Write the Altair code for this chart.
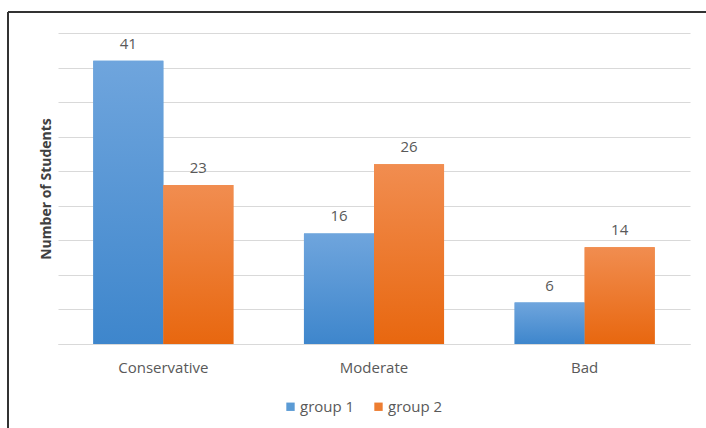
import altair as alt
import pandas as pd

categories = ["Conservative", "Moderate", "Bad"]
groups = ["group 1", "group 2"]
group1 = [41, 16, 6]
group2 = [23, 26, 14]

rows = []
for c, a, b in zip(categories, group1, group2):
    rows.append({"category": c, "group": "group 1", "value": a})
    rows.append({"category": c, "group": "group 2", "value": b})
df = pd.DataFrame(rows)

solid = ["#5b9bd5", "#ed7d31"]
grad_blue = alt.Gradient(
    gradient="linear", x1=0, x2=0, y1=0, y2=1,
    stops=[alt.GradientStop(color="#6fa5dd", offset=0),
           alt.GradientStop(color="#3e86cc", offset=1)],
)
grad_orange = alt.Gradient(
    gradient="linear", x1=0, x2=0, y1=0, y2=1,
    stops=[alt.GradientStop(color="#f18d50", offset=0),
           alt.GradientStop(color="#e8670f", offset=1)],
)

x_enc = alt.X(
    "category:N", sort=categories, title=None,
    scale=alt.Scale(paddingInner=0.335, paddingOuter=0.1675),
    axis=alt.Axis(labelAngle=0, ticks=False, grid=False, domainColor="#d9d9d9",
                  labelColor="#595959", labelFontSize=15, labelPadding=16,
                  labelFont="Open Sans"),
)
xo_enc = alt.XOffset("group:N", sort=groups,
                     scale=alt.Scale(paddingInner=0, paddingOuter=0))
y_enc = alt.Y(
    "value:Q", scale=alt.Scale(domain=[0, 45], nice=False),
    axis=alt.Axis(values=list(range(0, 50, 5)), labels=False, ticks=False,
                  domain=False, gridColor="#d9d9d9", title="Number of Students",
                  titleFontSize=14, titleFontWeight="bold", titleColor="#404040",
                  titleFont="Open Sans", titlePadding=5),
)

base = alt.Chart(df).encode(x=x_enc, xOffset=xo_enc, y=y_enc)

# solid bars carry the legend; gradient bars are drawn over them
legend_bars = base.mark_bar().encode(
    color=alt.Color(
        "group:N", sort=groups, title=None,
        scale=alt.Scale(domain=groups, range=solid),
        legend=alt.Legend(orient="none", legendX=225, legendY=366,
                          direction="horizontal", symbolType="square",
                          symbolSize=70, symbolStrokeWidth=0,
                          labelFontSize=15, labelColor="#595959",
                          labelFont="Open Sans", labelOffset=2,
                          columnPadding=16),
    )
)
g1 = base.transform_filter(alt.datum.group == "group 1").mark_bar(fill=grad_blue)
g2 = base.transform_filter(alt.datum.group == "group 2").mark_bar(fill=grad_orange)

labels = base.mark_text(baseline="bottom", dy=-9, fontSize=15,
                        color="#595959", font="Open Sans").encode(text="value:Q")

frame_top = alt.Chart(df).mark_rule(color="#333333", strokeWidth=1.5).encode(
    x=alt.value(-50), x2=alt.value(660), y=alt.value(-21))
frame_left = alt.Chart(df).mark_rule(color="#333333", strokeWidth=1.5).encode(
    x=alt.value(-50), y=alt.value(-21), y2=alt.value(400))

chart = alt.layer(legend_bars, g1, g2, labels, frame_top, frame_left).properties(
    width=632, height=311,
    autosize=alt.AutoSizeParams(type="none"),
    padding={"left": 58, "top": 33, "right": 16, "bottom": 84},
).configure(background="white", view=alt.ViewConfig(stroke=None))

chart.save("out.html", embed_options={"renderer": "svg", "actions": False})
